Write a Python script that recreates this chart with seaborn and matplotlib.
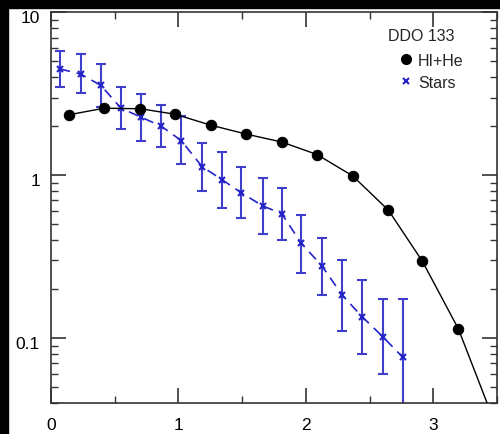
import seaborn as sns
import matplotlib.pyplot as plt
import matplotlib.ticker as mticker
import matplotlib.transforms as mtrans
from matplotlib.lines import Line2D
from matplotlib.patches import Rectangle
import pandas as pd
import numpy as np

# gas profile (HI+He)
gas_r = [0.139, 0.416, 0.701, 0.973, 1.254, 1.531, 1.811, 2.088, 2.368, 2.648, 2.915, 3.197, 3.477]
gas_s = [2.35, 2.58, 2.56, 2.37, 2.03, 1.79, 1.60, 1.34, 0.99, 0.61, 0.296, 0.114, 0.031]

# stellar profile with error bars
star_r = [0.073, 0.233, 0.392, 0.549, 0.709, 0.866, 1.023, 1.185, 1.342, 1.494,
          1.662, 1.811, 1.962, 2.127, 2.287, 2.443, 2.604, 2.761]
star_s = [4.49, 4.18, 3.56, 2.58, 2.27, 2.00, 1.63, 1.13, 0.94, 0.78,
          0.648, 0.581, 0.384, 0.277, 0.183, 0.135, 0.102, 0.0762]
star_hi = [5.80, 5.53, 4.80, 3.46, 3.14, 2.70, 2.31, 1.57, 1.39, 1.13,
           0.968, 0.841, 0.573, 0.414, 0.303, 0.229, 0.173, 0.173]
star_lo = [3.50, 3.20, 2.64, 1.91, 1.62, 1.50, 1.17, 0.805, 0.633, 0.544,
           0.434, 0.398, 0.251, 0.183, 0.110, 0.080, 0.060, 0.02]

gas = pd.DataFrame({"r": gas_r, "s": gas_s})
stars = pd.DataFrame({"r": star_r, "s": star_s, "hi": star_hi, "lo": star_lo})

sns.set_style("ticks")
plt.rcParams["font.family"] = ["Liberation Sans", "DejaVu Sans"]

fig = plt.figure(figsize=(5, 4.35), dpi=100)
ax = fig.add_axes([0.102, 0.0713, 0.892, 0.898])

blue = "#2424c8"
ebar = "#3f3fcc"

yerr = [stars["s"] - stars["lo"], stars["hi"] - stars["s"]]
ax.errorbar(stars["r"], stars["s"], yerr=yerr, fmt="none", ecolor=ebar,
            elinewidth=1.5, capsize=3.5, capthick=1.5, zorder=2)
sns.lineplot(data=stars, x="r", y="s", ax=ax, color=blue, lw=1.2,
             dashes=False, linestyle=(0, (6, 4)), marker="x", markersize=5,
             markeredgewidth=1.5, markeredgecolor=blue, zorder=3)
sns.lineplot(data=gas, x="r", y="s", ax=ax, color="black", lw=1.0,
             marker="o", markersize=7.5, markeredgecolor="black", zorder=4)

ax.set_yscale("log")
ax.set_xlim(0, 3.5)
ax.set_ylim(0.04, 10)
ax.set_xlabel("")
ax.set_ylabel("")

ax.xaxis.set_major_locator(mticker.MultipleLocator(1))
ax.xaxis.set_minor_locator(mticker.MultipleLocator(0.5))
ax.yaxis.set_major_locator(mticker.FixedLocator([0.1, 1, 10]))
ax.yaxis.set_major_formatter(mticker.FixedFormatter(["0.1", "1", "10"]))
ax.yaxis.set_minor_locator(mticker.LogLocator(base=10, subs=np.arange(2, 10)))
ax.yaxis.set_minor_formatter(mticker.NullFormatter())

ax.tick_params(which="both", direction="in", top=True, right=True,
               colors="#333333", labelcolor="black", labelsize=12.5)
ax.tick_params(which="major", length=11, width=1.2)
ax.tick_params(which="minor", length=5, width=1.0)
ax.tick_params(axis="x", pad=10)
ax.tick_params(axis="y", pad=8)
for sp in ax.spines.values():
    sp.set_color("#333333")
    sp.set_linewidth(1.2)

# y labels sit a little below their ticks in the original
shift = mtrans.ScaledTranslation(0, -4 / 100, fig.dpi_scale_trans)
for lab in ax.get_yticklabels():
    lab.set_transform(lab.get_transform() + shift)

handles = [
    Line2D([], [], ls="none", marker="o", color="black", markersize=7),
    Line2D([], [], ls="none", marker="x", color=blue, markersize=5, markeredgewidth=1.5),
]
ax.legend(handles, ["HI+He", "Stars"], loc="upper right",
          frameon=False, fontsize=11.5, handlelength=0.6, handletextpad=0.45,
          labelspacing=0.45, borderaxespad=0, borderpad=0,
          bbox_to_anchor=(0.925, 0.897))
ax.text(0.83, 0.942, "DDO 133", transform=ax.transAxes, ha="center",
        va="center", fontsize=11.5)

# black border of the screenshot
fig.patches.append(Rectangle((0, 0), 0.015, 1, transform=fig.transFigure, color="black", zorder=0))
fig.patches.append(Rectangle((0, 0.98), 1, 0.02, transform=fig.transFigure, color="black", zorder=0))

fig.savefig("out.png", dpi=100)
